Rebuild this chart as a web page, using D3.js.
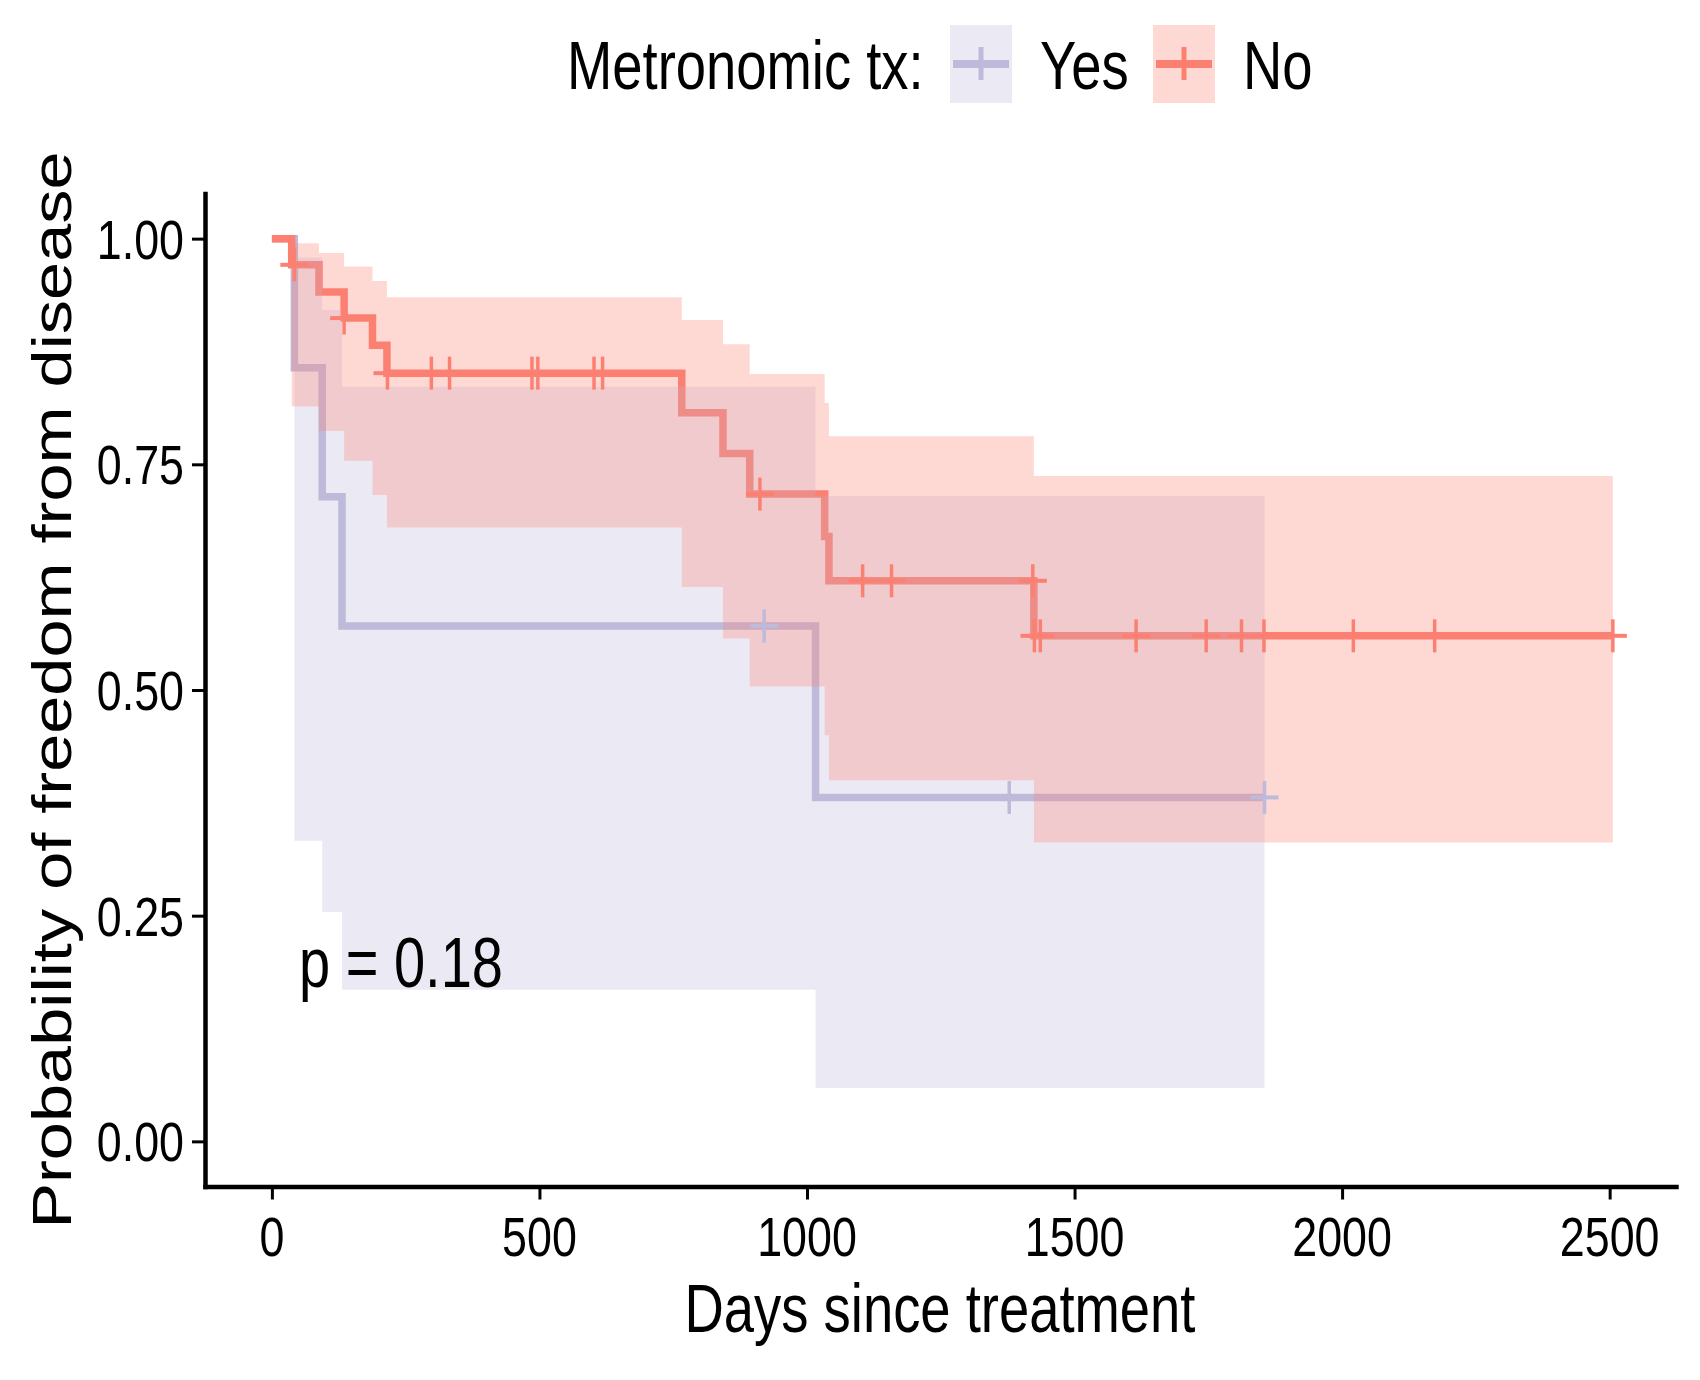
<!DOCTYPE html>
<html>
<head>
<meta charset="utf-8">
<script src="https://cdn.jsdelivr.net/npm/d3@7"></script>
<style>
  body { margin: 0; background: #fff; }
  text { font-family: "Liberation Sans", Arial, sans-serif; fill: #000; }
</style>
</head>
<body>
<div id="viz"></div>
<script>
var w = 1700;
var h = 1380;
var squish = 0.8;   // the original picture is squeezed sideways

// Kaplan-Meier steps
var groups = ["Yes", "No"];
var colors = ["#BEBADA", "#FB8072"];

var yesTimes = [0, 42, 94, 131, 1016];
var yesSurv = [1, 0.857, 0.714, 0.571, 0.381];
var yesLower = [0.333, 0.254, 0.168, 0.059];
var yesUpper = [0.979, 0.921, 0.836, 0.715];
var yesEnd = 1855;
var yesCensor = [920, 1378, 1855];

var noTimes = [0, 37, 88, 135, 188, 215, 766, 843, 893, 1033, 1041, 1424];
var noSurv = [1, 0.971, 0.941, 0.912, 0.882, 0.851, 0.807, 0.762, 0.717, 0.670, 0.621, 0.560];
var noLower = [0.814, 0.787, 0.754, 0.716, 0.680, 0.614, 0.557, 0.504, 0.450, 0.400, 0.331];
var noUpper = [0.995, 0.984, 0.969, 0.953, 0.935, 0.910, 0.883, 0.850, 0.818, 0.781, 0.737];
var noEnd = 2506;
var noCensor = [42, 135, 216, 298, 332, 486, 497, 602, 618, 912, 1104, 1158, 1422, 1425, 1436, 1615, 1746, 1812, 1854, 2021, 2173, 2506];

var xTicks = [0, 500, 1000, 1500, 2000, 2500];
var yTicks = [0, 0.25, 0.5, 0.75, 1];
var pText = "p = 0.18";

var svg = d3.select("#viz")
    .append("svg")
    .attr("width", w)
    .attr("height", h);

var x = d3.scaleLinear().domain([-125, 2624]).range([205, 1676]);
var y = d3.scaleLinear().domain([-0.05, 1.05]).range([1186.5, 193.5]);

function survAt(times, surv, t) {
    var s = surv[0];
    for (var i = 0; i < times.length; i++) {
        if (times[i] <= t) s = surv[i];
    }
    return s;
}

function stepPoints(times, surv, end) {
    var pts = times.map(function(t, i) { return [t, surv[i]]; });
    pts.push([end, surv[surv.length - 1]]);
    return pts;
}

function bandPoints(times, lower, upper, end) {
    var pts = lower.map(function(l, i) { return [times[i + 1], l, upper[i]]; });
    pts.push([end, lower[lower.length - 1], upper[upper.length - 1]]);
    return pts;
}

var series = [
    { line: stepPoints(yesTimes, yesSurv, yesEnd),
      band: bandPoints(yesTimes, yesLower, yesUpper, yesEnd),
      censor: yesCensor.map(function(t) { return [t, survAt(yesTimes, yesSurv, t)]; }) },
    { line: stepPoints(noTimes, noSurv, noEnd),
      band: bandPoints(noTimes, noLower, noUpper, noEnd),
      censor: noCensor.map(function(t) { return [t, survAt(noTimes, noSurv, t)]; }) }
];

var line = d3.line()
    .x(function(d) { return x(d[0]); })
    .y(function(d) { return y(d[1]); })
    .curve(d3.curveStepAfter);

var area = d3.area()
    .x(function(d) { return x(d[0]); })
    .y0(function(d) { return y(d[1]); })
    .y1(function(d) { return y(d[2]); })
    .curve(d3.curveStepAfter);

// same layer order as ggplot: steps, then ribbons, then censor marks
series.forEach(function(s, i) {
    svg.append("path")
        .attr("d", line(s.line))
        .attr("fill", "none")
        .attr("stroke", colors[i])
        .attr("stroke-width", 7.5);
});

series.forEach(function(s, i) {
    svg.append("path")
        .attr("d", area(s.band))
        .attr("fill", colors[i])
        .attr("fill-opacity", 0.3);
});

function plus(g, cx, cy, color) {
    g.append("line").attr("x1", cx - 14).attr("x2", cx + 14)
        .attr("y1", cy).attr("y2", cy)
        .attr("stroke", color).attr("stroke-width", 4);
    g.append("line").attr("x1", cx).attr("x2", cx)
        .attr("y1", cy - 16.5).attr("y2", cy + 16.5)
        .attr("stroke", color).attr("stroke-width", 3.5);
}

series.forEach(function(s, i) {
    var g = svg.append("g");
    s.censor.forEach(function(d) { plus(g, x(d[0]), y(d[1]), colors[i]); });
});

// axes
var xAxis = svg.append("g")
    .attr("transform", "translate(0,1186.5)")
    .call(d3.axisBottom(x).tickValues(xTicks).tickSize(13).tickSizeOuter(0).tickFormat(d3.format("d")));
var yAxis = svg.append("g")
    .attr("transform", "translate(205,0)")
    .call(d3.axisLeft(y).tickValues(yTicks).tickSize(13).tickSizeOuter(0).tickFormat(d3.format(".2f")));

[xAxis, yAxis].forEach(function(a) {
    a.select(".domain").attr("stroke", "#000").attr("stroke-width", 4.5).attr("stroke-linecap", "square");
    a.selectAll(".tick line").attr("stroke", "#000").attr("stroke-width", 3);
    a.selectAll(".tick text").remove();
});

xTicks.forEach(function(t) {
    svg.append("text")
        .attr("transform", "translate(" + x(t) + ",1256) scale(" + squish + ",1)")
        .attr("text-anchor", "middle")
        .style("font-size", "56px")
        .text(d3.format("d")(t));
});
yTicks.forEach(function(t) {
    svg.append("text")
        .attr("transform", "translate(184," + (y(t) + 20) + ") scale(" + squish + ",1)")
        .attr("text-anchor", "end")
        .style("font-size", "56px")
        .text(d3.format(".2f")(t));
});

// axis titles
svg.append("text")
    .attr("transform", "translate(940,1332) scale(" + squish + ",1)")
    .attr("text-anchor", "middle")
    .style("font-size", "68px")
    .text("Days since treatment");
svg.append("text")
    .attr("transform", "translate(71,690) scale(" + squish + ",1) rotate(-90)")
    .attr("text-anchor", "middle")
    .style("font-size", "68.5px")
    .text("Probability of freedom from disease");

// p value
svg.append("text")
    .attr("transform", "translate(299,987) scale(" + squish + ",1)")
    .style("font-size", "70px")
    .text(pText);

// legend
svg.append("text")
    .attr("transform", "translate(567,89) scale(" + squish + ",1)")
    .style("font-size", "68px")
    .text("Metronomic tx:");

var keyX = [950, 1153];
var labelX = [1040, 1243];
groups.forEach(function(gname, i) {
    var k = svg.append("g").attr("transform", "translate(" + keyX[i] + ",25)");
    k.append("rect").attr("width", 62).attr("height", 78)
        .attr("fill", colors[i]).attr("fill-opacity", 0.3);
    k.append("line").attr("x1", 3).attr("x2", 59).attr("y1", 39).attr("y2", 39)
        .attr("stroke", colors[i]).attr("stroke-width", 8);
    k.append("line").attr("x1", 31).attr("x2", 31).attr("y1", 22).attr("y2", 55)
        .attr("stroke", colors[i]).attr("stroke-width", 5);
    svg.append("text")
        .attr("transform", "translate(" + labelX[i] + ",89) scale(" + squish + ",1)")
        .style("font-size", "68px")
        .text(gname);
});
</script>
</body>
</html>
